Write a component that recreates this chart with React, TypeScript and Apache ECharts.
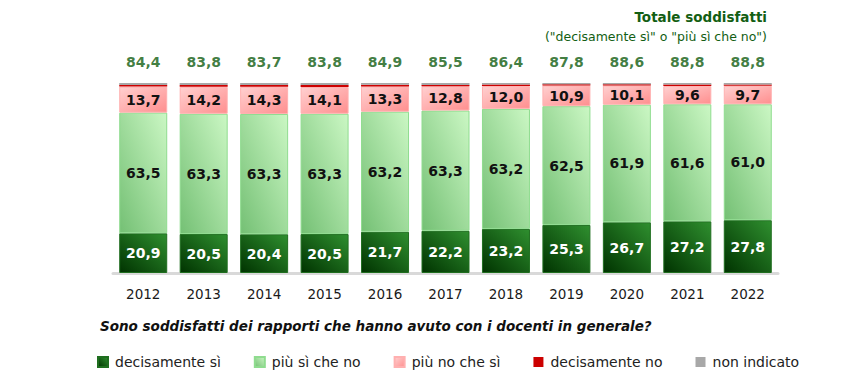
import React, { useEffect, useRef } from "react";
import * as echarts from "echarts";

const years = ["2012", "2013", "2014", "2015", "2016", "2017", "2018", "2019", "2020", "2021", "2022"];
const decisamenteSi = [20.9, 20.5, 20.4, 20.5, 21.7, 22.2, 23.2, 25.3, 26.7, 27.2, 27.8];
const piuSiCheNo = [63.5, 63.3, 63.3, 63.3, 63.2, 63.3, 63.2, 62.5, 61.9, 61.6, 61.0];
const piuNoCheSi = [13.7, 14.2, 14.3, 14.1, 13.3, 12.8, 12.0, 10.9, 10.1, 9.6, 9.7];
const decisamenteNo = [0.9, 1.0, 1.0, 1.0, 0.9, 0.7, 0.8, 0.6, 0.6, 0.8, 0.7];
const nonIndicato = [1.0, 1.0, 1.0, 1.1, 0.9, 1.0, 0.8, 0.7, 0.7, 0.8, 0.8];
const totaleSoddisfatti = [84.4, 83.8, 83.7, 83.8, 84.9, 85.5, 86.4, 87.8, 88.6, 88.8, 88.8];

const FONT = "DejaVu Sans";
const fmt = (v: number) => v.toFixed(1).replace(".", ",");

export default function App() {
  const ref = useRef<HTMLDivElement>(null);
  useEffect(() => {
    if (!ref.current) return;
    const chart = echarts.init(ref.current, null, { renderer: "svg" });
    const G = echarts.graphic.LinearGradient;
    const darkGreen = new G(1, 0, 0, 1, [
      { offset: 0, color: "#2f8f2f" },
      { offset: 1, color: "#003300" },
    ]);
    const lightGreen = new G(1, 0, 0, 1, [
      { offset: 0, color: "#cbf7c4" },
      { offset: 1, color: "#74c074" },
    ]);
    const pink = new G(0, 0, 1, 1, [
      { offset: 0, color: "#ffd0d0" },
      { offset: 1, color: "#ff8f8f" },
    ]);
    const labelStyle = (color: string) => ({
      show: true,
      position: "inside" as const,
      color,
      fontFamily: FONT,
      fontWeight: "bold" as const,
      fontSize: 14,
      formatter: (p: any) => fmt(p.value),
    });
    const barCommon = {
      type: "bar" as const,
      stack: "total",
      barWidth: 48,
    };
    chart.setOption({
      animation: false,
      title: [
        {
          text: "Totale soddisfatti",
          right: 80,
          top: 5,
          textStyle: { fontFamily: FONT, fontSize: 13.5, fontWeight: "bold", color: "#135e13" },
        },
        {
          text: '("decisamente sì" o "più sì che no")',
          right: 80,
          top: 25,
          textStyle: { fontFamily: FONT, fontSize: 12.5, fontWeight: "normal", color: "#135e13" },
        },
        {
          text: "Sono soddisfatti dei rapporti che hanno avuto con i docenti in generale?",
          left: 95,
          top: 314,
          textStyle: {
            fontFamily: FONT,
            fontSize: 13.5,
            fontWeight: "bold",
            fontStyle: "italic",
            color: "#111111",
          },
        },
      ],
      legend: {
        data: ["decisamente sì", "più sì che no", "più no che sì", "decisamente no", "non indicato"],
        left: 92,
        top: 350,
        itemWidth: 10,
        itemHeight: 10,
        itemGap: 33,
        icon: "rect",
        textStyle: { fontFamily: FONT, fontSize: 14, color: "#222222", padding: [0, 0, 0, 2] },
      },
      grid: { left: 113, right: 74, top: 83, bottom: 100 },
      xAxis: {
        type: "category",
        data: years,
        axisLine: { lineStyle: { color: "#d9d9d9", width: 3 } },
        axisTick: { show: false },
        axisLabel: { fontFamily: FONT, fontSize: 13.5, color: "#1a1a1a", margin: 14 },
      },
      yAxis: { type: "value", min: 0, max: 100, show: false },
      series: [
        {
          ...barCommon,
          name: "decisamente sì",
          data: decisamenteSi,
          itemStyle: { color: darkGreen, borderColor: "#1f6e1f", borderWidth: 1 },
          label: labelStyle("#ffffff"),
        },
        {
          ...barCommon,
          name: "più sì che no",
          data: piuSiCheNo,
          itemStyle: { color: lightGreen, borderColor: "#8fdc8f", borderWidth: 1 },
          label: labelStyle("#111111"),
        },
        {
          ...barCommon,
          name: "più no che sì",
          data: piuNoCheSi,
          itemStyle: { color: pink, borderColor: "#ffb0b0", borderWidth: 1 },
          label: labelStyle("#111111"),
        },
        {
          ...barCommon,
          name: "decisamente no",
          data: decisamenteNo,
          itemStyle: { color: "#cc0000" },
        },
        {
          ...barCommon,
          name: "non indicato",
          data: nonIndicato,
          itemStyle: { color: "#a8a8a8" },
        },
        {
          type: "scatter",
          name: "totale",
          data: totaleSoddisfatti.map(() => 100),
          symbolSize: 0,
          label: {
            show: true,
            position: "top",
            distance: 14,
            color: "#0f5c0f",
            fontFamily: FONT,
            fontWeight: "bold",
            fontSize: 14,
            formatter: (p: any) => fmt(totaleSoddisfatti[p.dataIndex]),
          },
        },
      ],
    });
    return () => chart.dispose();
  }, []);
  return (
    <div
      ref={ref}
      style={{ position: "fixed", left: 0, top: 0, width: 852, height: 373, background: "#ffffff" }}
    />
  );
}
